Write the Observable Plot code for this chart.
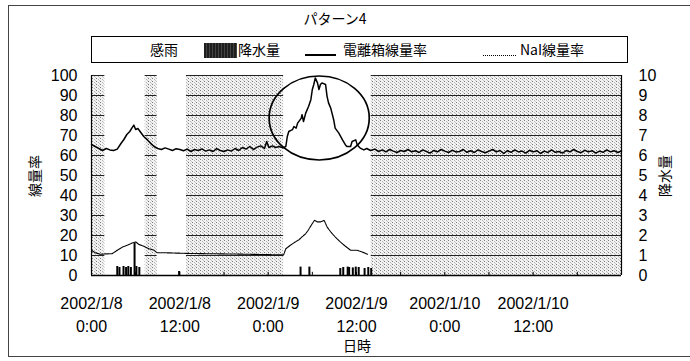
<!DOCTYPE html>
<html><head><meta charset="utf-8">
<script src="https://cdn.jsdelivr.net/npm/d3@7"></script>
<script src="https://cdn.jsdelivr.net/npm/@observablehq/plot@0.6"></script>
<style>
html,body{margin:0;padding:0;background:#fff;}
#wrap{position:relative;width:690px;height:361px;overflow:hidden;font-family:"Noto Sans CJK JP",sans-serif;color:#000;}
#frame{position:absolute;left:8px;top:5px;width:700px;height:352px;border:1px solid #444;box-sizing:border-box;}
#chart{position:absolute;left:0;top:0;}
#title{position:absolute;left:235px;width:200px;top:9px;text-align:center;font-size:14px;line-height:18px;}
#legend{position:absolute;left:91px;top:36px;width:537px;height:27px;border:1px solid #000;box-sizing:border-box;}
.li{position:absolute;top:3px;font-size:14px;line-height:19px;white-space:nowrap;}
.sw{position:absolute;}
.ytitle{position:absolute;font-size:14px;line-height:16px;white-space:nowrap;transform:translate(-50%,-50%) rotate(-90deg);}
#xtitle{position:absolute;left:357px;top:345px;transform:translate(-50%,-50%);font-size:14px;}
</style></head>
<body>
<div id="wrap">
  <div id="frame"></div>
  <div id="chart"></div>
  <div id="title"></div>
  <div id="legend"></div>
  <div class="ytitle" id="ytl" style="left:34px;top:176px;"></div>
  <div class="ytitle" id="ytr" style="left:664px;top:176px;"></div>
  <div id="xtitle"></div>
</div>
<script>
// ---- texts ----
const chartTitle = "パターン4";
const legendNames = ["感雨", "降水量", "電離箱線量率", "NaI線量率"];
const leftTitle = "線量率";
const rightTitle = "降水量";
const xTitle = "日時";

// ---- x axis: hours since 2002/1/8 0:00 ----
const xDomainHours = [0, 72];
const xTickHours = [0, 12, 24, 36, 48, 60];
const xTickLabels = ["2002/1/8\n0:00", "2002/1/8\n12:00", "2002/1/9\n0:00", "2002/1/9\n12:00", "2002/1/10\n0:00", "2002/1/10\n12:00"];
const minorTickHours = [6, 12, 18, 24, 30, 36, 42, 48, 54, 60, 66];

// ---- y axes ----
const leftTicks = [0, 10, 20, 30, 40, 50, 60, 70, 80, 90, 100];
const rightTickLabels = [0, 1, 2, 3, 4, 5, 6, 7, 8, 9, 10];
const rightPerLeft = 0.1; // 降水量 axis 0-10 against 線量率 axis 0-100
const gridValues = [10, 20, 30, 40, 50, 60, 70, 80, 90, 100];

// ---- 感雨 (rain sensing) periods, hours ----
const rainStart = [0, 7.3, 12.9, 38.0];
const rainEnd = [1.8, 8.9, 26.1, 72];

// ---- 電離箱線量率 ----
const chamberHours = [0,0.5,1,1.5,2,2.5,3,3.5,4,4.4,4.8,5.2,5.5,5.75,6.0,6.3,6.7,7.1,7.6,8.0,8.5,9.0,9.5,10,10.5,11,11.5,12,12.5,13,13.5,14,14.5,15,15.5,16,16.5,17,17.5,18,18.5,19,19.5,20,20.5,21,21.5,22,22.5,23,23.5,23.8,24.1,24.6,25,25.5,26,26.4,26.6,26.8,27.3,27.5,27.8,28.0,28.5,28.6,28.8,29.1,29.5,29.8,30.0,30.2,30.4,30.7,30.9,31.1,31.3,31.8,32.0,32.2,32.5,32.9,33.1,33.6,34.1,34.5,34.7,35.2,35.4,35.9,36.1,36.5,37.0,37.4,37.9,38.5,39,39.5,40,40.5,41,41.5,42,42.5,43,43.5,44,44.5,45,45.5,46,46.5,47,47.5,48,48.5,49,49.5,50,50.5,51,51.5,52,52.5,53,53.5,54,54.5,55,55.5,56,56.5,57,57.5,58,58.5,59,59.5,60,60.5,61,61.5,62,62.5,63,63.5,64,64.5,65,65.5,66,66.5,67,67.5,68,68.5,69,69.5,70,70.5,71,71.5,72];
const chamberValues = [65.5,64.5,63.5,62.5,63.5,62.8,62.5,63.2,66,68,70.5,72,73.8,75.2,73,73.5,71.5,69.5,67.8,66.2,64.5,63.5,63.0,63.8,63.2,62.5,63.4,63.0,62.4,63.2,62.0,63.0,62.5,63.3,62.2,62.8,62.0,63.4,62.5,62.0,62.8,62.2,63.5,62.5,64.0,63.2,64.5,63.0,64.2,64.8,63.5,67.0,64.0,64.8,64.0,64.5,63.8,64.5,69.5,72,72.9,74.5,73.7,76.2,78.7,80.4,77,81.2,84.6,87.9,93,95.5,98.8,96.3,93,95.5,96.3,95.5,89.6,86.3,83.7,77.9,73.7,71.2,67.8,65.3,64.5,64.5,67,67.8,65.3,63.7,62.8,63.5,62.5,63.2,62.0,62.8,61.8,63.0,62.2,61.5,62.5,62.0,63.0,61.8,62.4,61.5,62.8,62.0,61.2,62.5,61.8,63.0,62.2,61.5,62.6,61.8,62.0,63.0,61.6,62.4,61.5,62.8,62.0,61.4,62.2,63.0,61.8,62.5,61.0,62.4,61.6,62.8,61.8,62.2,61.2,62.6,61.8,62.4,61.0,62.2,61.5,62.8,61.6,62.0,61.2,62.5,61.8,63.0,62.0,61.4,62.6,61.8,62.4,61.2,62.2,61.6,62.8,61.8,62.4,61.5,62.3];

// ---- NaI線量率 ----
const naiHours = [0,0.5,1.2,1.9,2.8,3.5,4.2,4.85,5.5,6.0,6.4,7.1,7.8,8.5,8.9,9.6,13.7,20,26.1,26.4,27.0,27.7,28.2,28.6,29.1,29.5,30.0,30.3,30.7,31.1,31.6,32.0,32.5,33.1,33.8,34.5,35.2,36.1,36.8,37.5];
const naiValues = [12.6,11.4,10.6,10.8,10.9,12.6,14.2,15.1,16.2,16.8,15.6,14.6,13.4,12.6,11.4,11.4,11.0,10.7,10.3,13.4,15.1,16.8,17.9,19.3,20.9,23.0,26.0,27.6,26.8,26.8,27.6,24.3,21.8,19.3,16.8,14.6,12.6,12.6,11.7,10.6];

// ---- 降水量 (right axis) ----
const precipHours = [3.5,3.8,4.35,4.7,5.0,5.35,5.85,6.1,6.5,11.9,28.4,29.6,33.8,34.2,34.8,35.0,35.5,35.9,36.3,37.1,37.6,38.0];
const precipValues = [0.45,0.4,0.45,0.4,0.45,0.4,1.6,0.45,0.4,0.2,0.42,0.42,0.35,0.4,0.42,0.4,0.38,0.42,0.4,0.35,0.4,0.35];

// ---- circled annotation (hours / 線量率 units) ----
const noteCenterHour = 31.0, noteCenterValue = 78.5, noteHalfHours = 6.8, noteHalfValue = 21;

// ---------- build ----------
const rain = rainStart.map((s, i) => ({start: s, end: rainEnd[i]}));
const gridSegs = rain.flatMap(r => gridValues.map(v => ({start: r.start, end: r.end, v})));
const chamber = chamberHours.map((h, i) => ({h, v: chamberValues[i]}));
const nai = naiHours.map((h, i) => ({h, v: naiValues[i]}));
const precip = precipHours.map((h, i) => ({h, v: precipValues[i] / rightPerLeft}));

const numFont = '"Liberation Sans Narrow","Arial Narrow","Liberation Sans",sans-serif';

function ellipseMark(index, scales) {
  const x = scales.x, y = scales.y;
  const cx = x(noteCenterHour), cy = y(noteCenterValue);
  const rx = Math.abs(x(noteCenterHour + noteHalfHours) - cx);
  const ry = Math.abs(y(noteCenterValue + noteHalfValue) - cy);
  return d3.create("svg:ellipse").attr("cx", cx).attr("cy", cy).attr("rx", rx).attr("ry", ry)
    .attr("fill", "none").attr("stroke", "#000").attr("stroke-width", 1.7).node();
}

const svg = Plot.plot({
  width: 690, height: 361,
  marginLeft: 91, marginRight: 69, marginTop: 75, marginBottom: 86,
  style: {fontFamily: numFont, fontSize: "16px", color: "#000", background: "transparent"},
  x: {domain: xDomainHours, label: null},
  y: {domain: [0, 100], label: null},
  marks: [
    Plot.rect(rain, {x1: "start", x2: "end", y1: 0, y2: 100, fill: "url(#rainDots)"}),
    Plot.ruleY(gridSegs, {y: "v", x1: "start", x2: "end", stroke: "#222", strokeWidth: 1}),
    Plot.ruleX(precip, {x: "h", y1: 0, y2: "v", stroke: "#000", strokeWidth: 2}),
    Plot.line(nai, {x: "h", y: "v", stroke: "#000", strokeWidth: 1.1, strokeDasharray: "2.5,0.8"}),
    Plot.line(chamber, {x: "h", y: "v", stroke: "#000", strokeWidth: 1.5}),
    ellipseMark,
    Plot.ruleX(minorTickHours, {y1: 0, y2: 1.6, stroke: "#000"}),
    Plot.ruleX(xDomainHours, {stroke: "#000", strokeWidth: 1.2}),
    Plot.ruleY([0], {stroke: "#000", strokeWidth: 1.5}),
    Plot.axisY(leftTicks, {anchor: "left", tickSize: 0, tickPadding: 14, label: null}),
    Plot.axisY(leftTicks, {anchor: "right", tickSize: 0, tickPadding: 17, label: null,
      tickFormat: d => String(rightTickLabels[leftTicks.indexOf(d)])}),
    Plot.axisX(xTickHours, {anchor: "bottom", tickSize: 0, tickPadding: 17, label: null, lineHeight: 1.45,
      tickFormat: d => xTickLabels[xTickHours.indexOf(d)]})
  ]
});

// dotted fill pattern for 感雨
const defs = d3.select(svg).insert("defs", ":first-child");
const pat = defs.append("pattern").attr("id", "rainDots").attr("patternUnits", "userSpaceOnUse")
  .attr("width", 4).attr("height", 3);
pat.append("rect").attr("width", 4).attr("height", 3).attr("fill", "#f2f2f2");
pat.append("rect").attr("x", 0).attr("y", 0).attr("width", 1).attr("height", 1).attr("fill", "#7a7a7a");
pat.append("rect").attr("x", 2).attr("y", 1).attr("width", 1).attr("height", 1).attr("fill", "#b4b4b4");
pat.append("rect").attr("x", 3).attr("y", 2).attr("width", 1).attr("height", 1).attr("fill", "#c8c8c8");

document.getElementById("chart").appendChild(svg);

// texts
document.getElementById("title").textContent = chartTitle;
document.getElementById("ytl").textContent = leftTitle;
document.getElementById("ytr").textContent = rightTitle;
document.getElementById("xtitle").textContent = xTitle;

// legend
const lg = document.getElementById("legend");
function addText(name, left) {
  const s = document.createElement("div"); s.className = "li"; s.style.left = left + "px"; s.textContent = name; lg.appendChild(s);
}
function addSwatch(left, top, w, h, css) {
  const s = document.createElement("div"); s.className = "sw";
  s.style.left = left + "px"; s.style.top = top + "px"; s.style.width = w + "px"; s.style.height = h + "px";
  s.style.cssText += css; lg.appendChild(s);
}
addText(legendNames[0], 58);
addSwatch(112, 6, 33, 15, "background:repeating-linear-gradient(90deg,#1e1e1e 0 2px,#444 2px 3px);");
addText(legendNames[1], 146);
addSwatch(213, 17, 31, 0, "border-top:2px solid #000;");
addText(legendNames[2], 251);
addSwatch(391, 18, 33, 0, "border-top:1.2px dotted #000;");
addText(legendNames[3], 428);
</script>
</body></html>
